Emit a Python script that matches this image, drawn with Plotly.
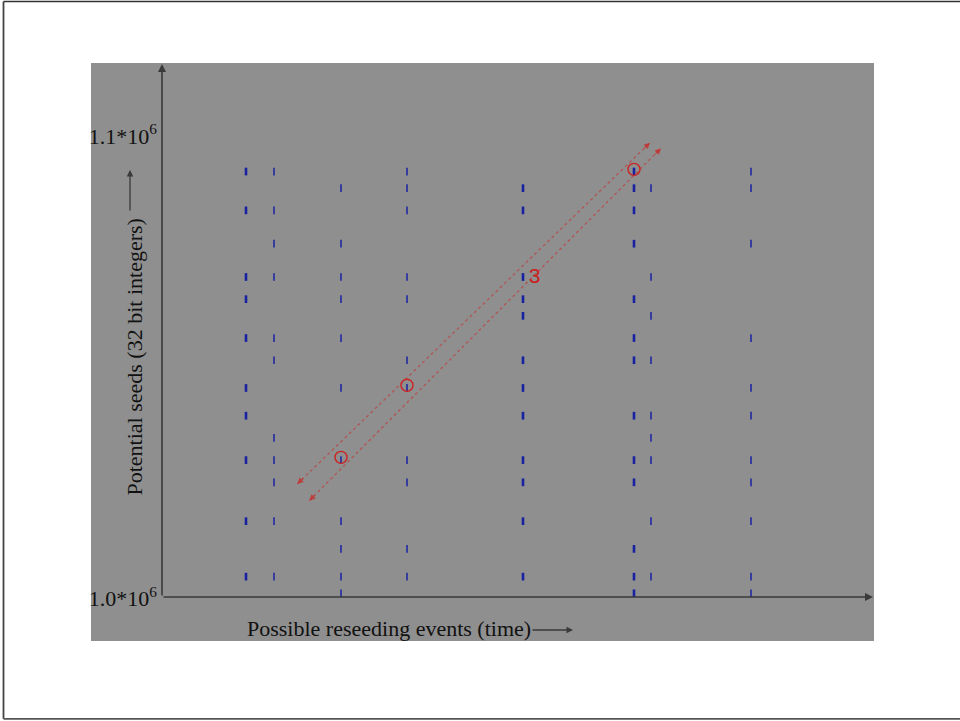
import plotly.graph_objects as go

# ---------------- data ----------------
# possible reseeding events (time units along the x axis)
event_times = [84, 112, 179, 245, 361, 472, 489, 589]

# potential seeds observed at each event (seed offset units)
seeds_t084 = [76, 69, 57, 53, 46, 37, 32, 24, 13, 3]
seeds_t112 = [76, 69, 63, 57, 46, 42, 28, 24, 20, 13, 3]
seeds_t179 = [73, 63, 57, 53, 46, 37, 24, 13, 8, 3, 0]
seeds_t245 = [76, 73, 69, 57, 53, 42, 37, 24, 20, 8, 3]
seeds_t361 = [73, 69, 57, 53, 50, 42, 37, 32, 24, 20, 13, 3]
seeds_t472 = [76, 73, 69, 63, 53, 46, 42, 32, 24, 20, 8, 3, 0]
seeds_t489 = [73, 57, 50, 42, 32, 28, 24, 13, 3]
seeds_t589 = [76, 73, 63, 46, 37, 32, 24, 20, 13, 3, 0]

seed_columns = [seeds_t084, seeds_t112, seeds_t179, seeds_t245,
                seeds_t361, seeds_t472, seeds_t489, seeds_t589]
bold_columns = [True, False, False, False, True, True, False, False]

# matched seeds (circled)
match_times = [179, 245, 472]
match_seeds = [24.5, 37.5, 76.4]

# label of the fitted sequence
seq_label = "3"
seq_label_time = 372.5
seq_label_seed = 56.8

# two dotted fit lines (time, seed) endpoints
fit_a_times = [135.3, 488.0]
fit_a_seeds = [19.7, 81.2]
fit_b_times = [147.3, 499.0]
fit_b_seeds = [16.7, 80.2]

# axis
origin_time = 0
origin_seed = -0.667
y_tick_vals = [-0.9, 82.4]
y_tick_text = ["1.0*10<sup>6</sup>", "1.1*10<sup>6</sup>"]

x_title = "Possible reseeding events (time)"
y_title = "Potential seeds (32 bit integers)"

# ---------------- figure ----------------
L, R, T, B = 91, 86, 63, 80
W, H = 960, 721
PW, PH = W - L - R, H - T - B


def px_x(px):
    return (px - L) / PW


def px_y(py):
    return (H - B - py) / PH


fig = go.Figure()

blue = "rgb(24,34,160)"
for t, seeds, bold in zip(event_times, seed_columns, bold_columns):
    fig.add_trace(go.Scatter(
        x=[t] * len(seeds), y=seeds, mode="markers",
        marker=dict(symbol="line-ns", size=5.5, color=blue,
                    line=dict(color=blue, width=2.6 if bold else 1.5)),
        hoverinfo="skip", showlegend=False))

red = "rgba(200,45,45,0.6)"
for xs, ys in [(fit_a_times, fit_a_seeds), (fit_b_times, fit_b_seeds)]:
    fig.add_trace(go.Scatter(
        x=xs, y=ys, mode="lines",
        line=dict(color=red, width=1.3, dash="dot"),
        hoverinfo="skip", showlegend=False))

circ_red = "rgb(205,35,35)"
fig.add_trace(go.Scatter(
    x=match_times, y=match_seeds, mode="markers",
    marker=dict(symbol="circle-open", size=12, color=circ_red,
                line=dict(color=circ_red, width=1.4)),
    hoverinfo="skip", showlegend=False))

fig.add_trace(go.Scatter(
    x=[seq_label_time], y=[seq_label_seed], mode="text",
    text=[seq_label],
    textfont=dict(family="Liberation Sans", size=21, color="rgb(200,30,30)"),
    hoverinfo="skip", showlegend=False))

ann = []
# arrowheads on both ends of the dotted lines
for xs, ys in [(fit_a_times, fit_a_seeds), (fit_b_times, fit_b_seeds)]:
    for tip, tail in [(1, 0), (0, 1)]:
        dxp = (xs[tip] - xs[tail]) * 1.0
        dyp = -(ys[tip] - ys[tail]) * 5.55
        n = (dxp ** 2 + dyp ** 2) ** 0.5
        ann.append(dict(x=xs[tip], y=ys[tip], xref="x", yref="y",
                        ax=-dxp / n * 10, ay=-dyp / n * 10,
                        showarrow=True, arrowhead=2, arrowsize=1.1,
                        arrowwidth=1.1, arrowcolor="rgba(200,45,45,0.8)",
                        text=""))

axis_col = "#3a3a3a"
# x axis with arrow
ann.append(dict(x=711, y=origin_seed, ax=origin_time, ay=origin_seed,
                xref="x", yref="y", axref="x", ayref="y",
                showarrow=True, arrowhead=2, arrowsize=1, arrowwidth=1.6,
                arrowcolor=axis_col, text=""))
# y axis with arrow
ann.append(dict(x=origin_time, y=95.4, ax=origin_time, ay=origin_seed,
                xref="x", yref="y", axref="x", ayref="y",
                showarrow=True, arrowhead=2, arrowsize=1, arrowwidth=1.6,
                arrowcolor=axis_col, text=""))

# axis titles
ann.append(dict(x=px_x(388.5), y=px_y(628), xref="paper", yref="paper",
                xanchor="center", yanchor="middle",
                text=x_title, showarrow=False,
                font=dict(family="Liberation Serif", size=22, color="#111")))
ann.append(dict(x=px_x(133.5), y=px_y(357), xref="paper", yref="paper",
                xanchor="center", yanchor="middle",
                text=y_title, showarrow=False, textangle=-90,
                font=dict(family="Liberation Serif", size=22, color="#111")))
# title arrows
ann.append(dict(x=411, y=-6.61, ax=369, ay=-6.61,
                xref="x", yref="y", axref="x", ayref="y",
                showarrow=True, arrowhead=2, arrowsize=1, arrowwidth=1.3,
                arrowcolor=axis_col, text=""))
ann.append(dict(x=-32, y=76.3, ax=-32, ay=68.7,
                xref="x", yref="y", axref="x", ayref="y",
                showarrow=True, arrowhead=2, arrowsize=1, arrowwidth=1.3,
                arrowcolor=axis_col, text=""))

shapes = [
    dict(type="line", xref="paper", yref="paper",
         x0=px_x(3.5), x1=px_x(960), y0=px_y(1.5), y1=px_y(1.5),
         line=dict(color="#333", width=1.5)),
    dict(type="line", xref="paper", yref="paper",
         x0=px_x(3.5), x1=px_x(3.5), y0=px_y(1.5), y1=px_y(718.8),
         line=dict(color="#444", width=1.8)),
    dict(type="line", xref="paper", yref="paper",
         x0=px_x(3.5), x1=px_x(960), y0=px_y(718.8), y1=px_y(718.8),
         line=dict(color="#555", width=1.8)),
]

fig.update_layout(
    width=W, height=H,
    margin=dict(l=L, r=R, t=T, b=B, pad=0),
    paper_bgcolor="white", plot_bgcolor="#8f8f8f",
    xaxis=dict(range=[-71, 712], showgrid=False, zeroline=False,
               showticklabels=False, showline=False, ticks="", fixedrange=True),
    yaxis=dict(range=[-8.595, 95.56], showgrid=False, zeroline=False,
               anchor="free", position=(162 - L) / PW,
               tickvals=y_tick_vals, ticktext=y_tick_text, ticks="",
               ticklabelstandoff=5,
               showline=False, fixedrange=True,
               tickfont=dict(family="Liberation Serif", size=22, color="#111")),
    annotations=ann, shapes=shapes, showlegend=False,
)

fig.write_html("out.html")
